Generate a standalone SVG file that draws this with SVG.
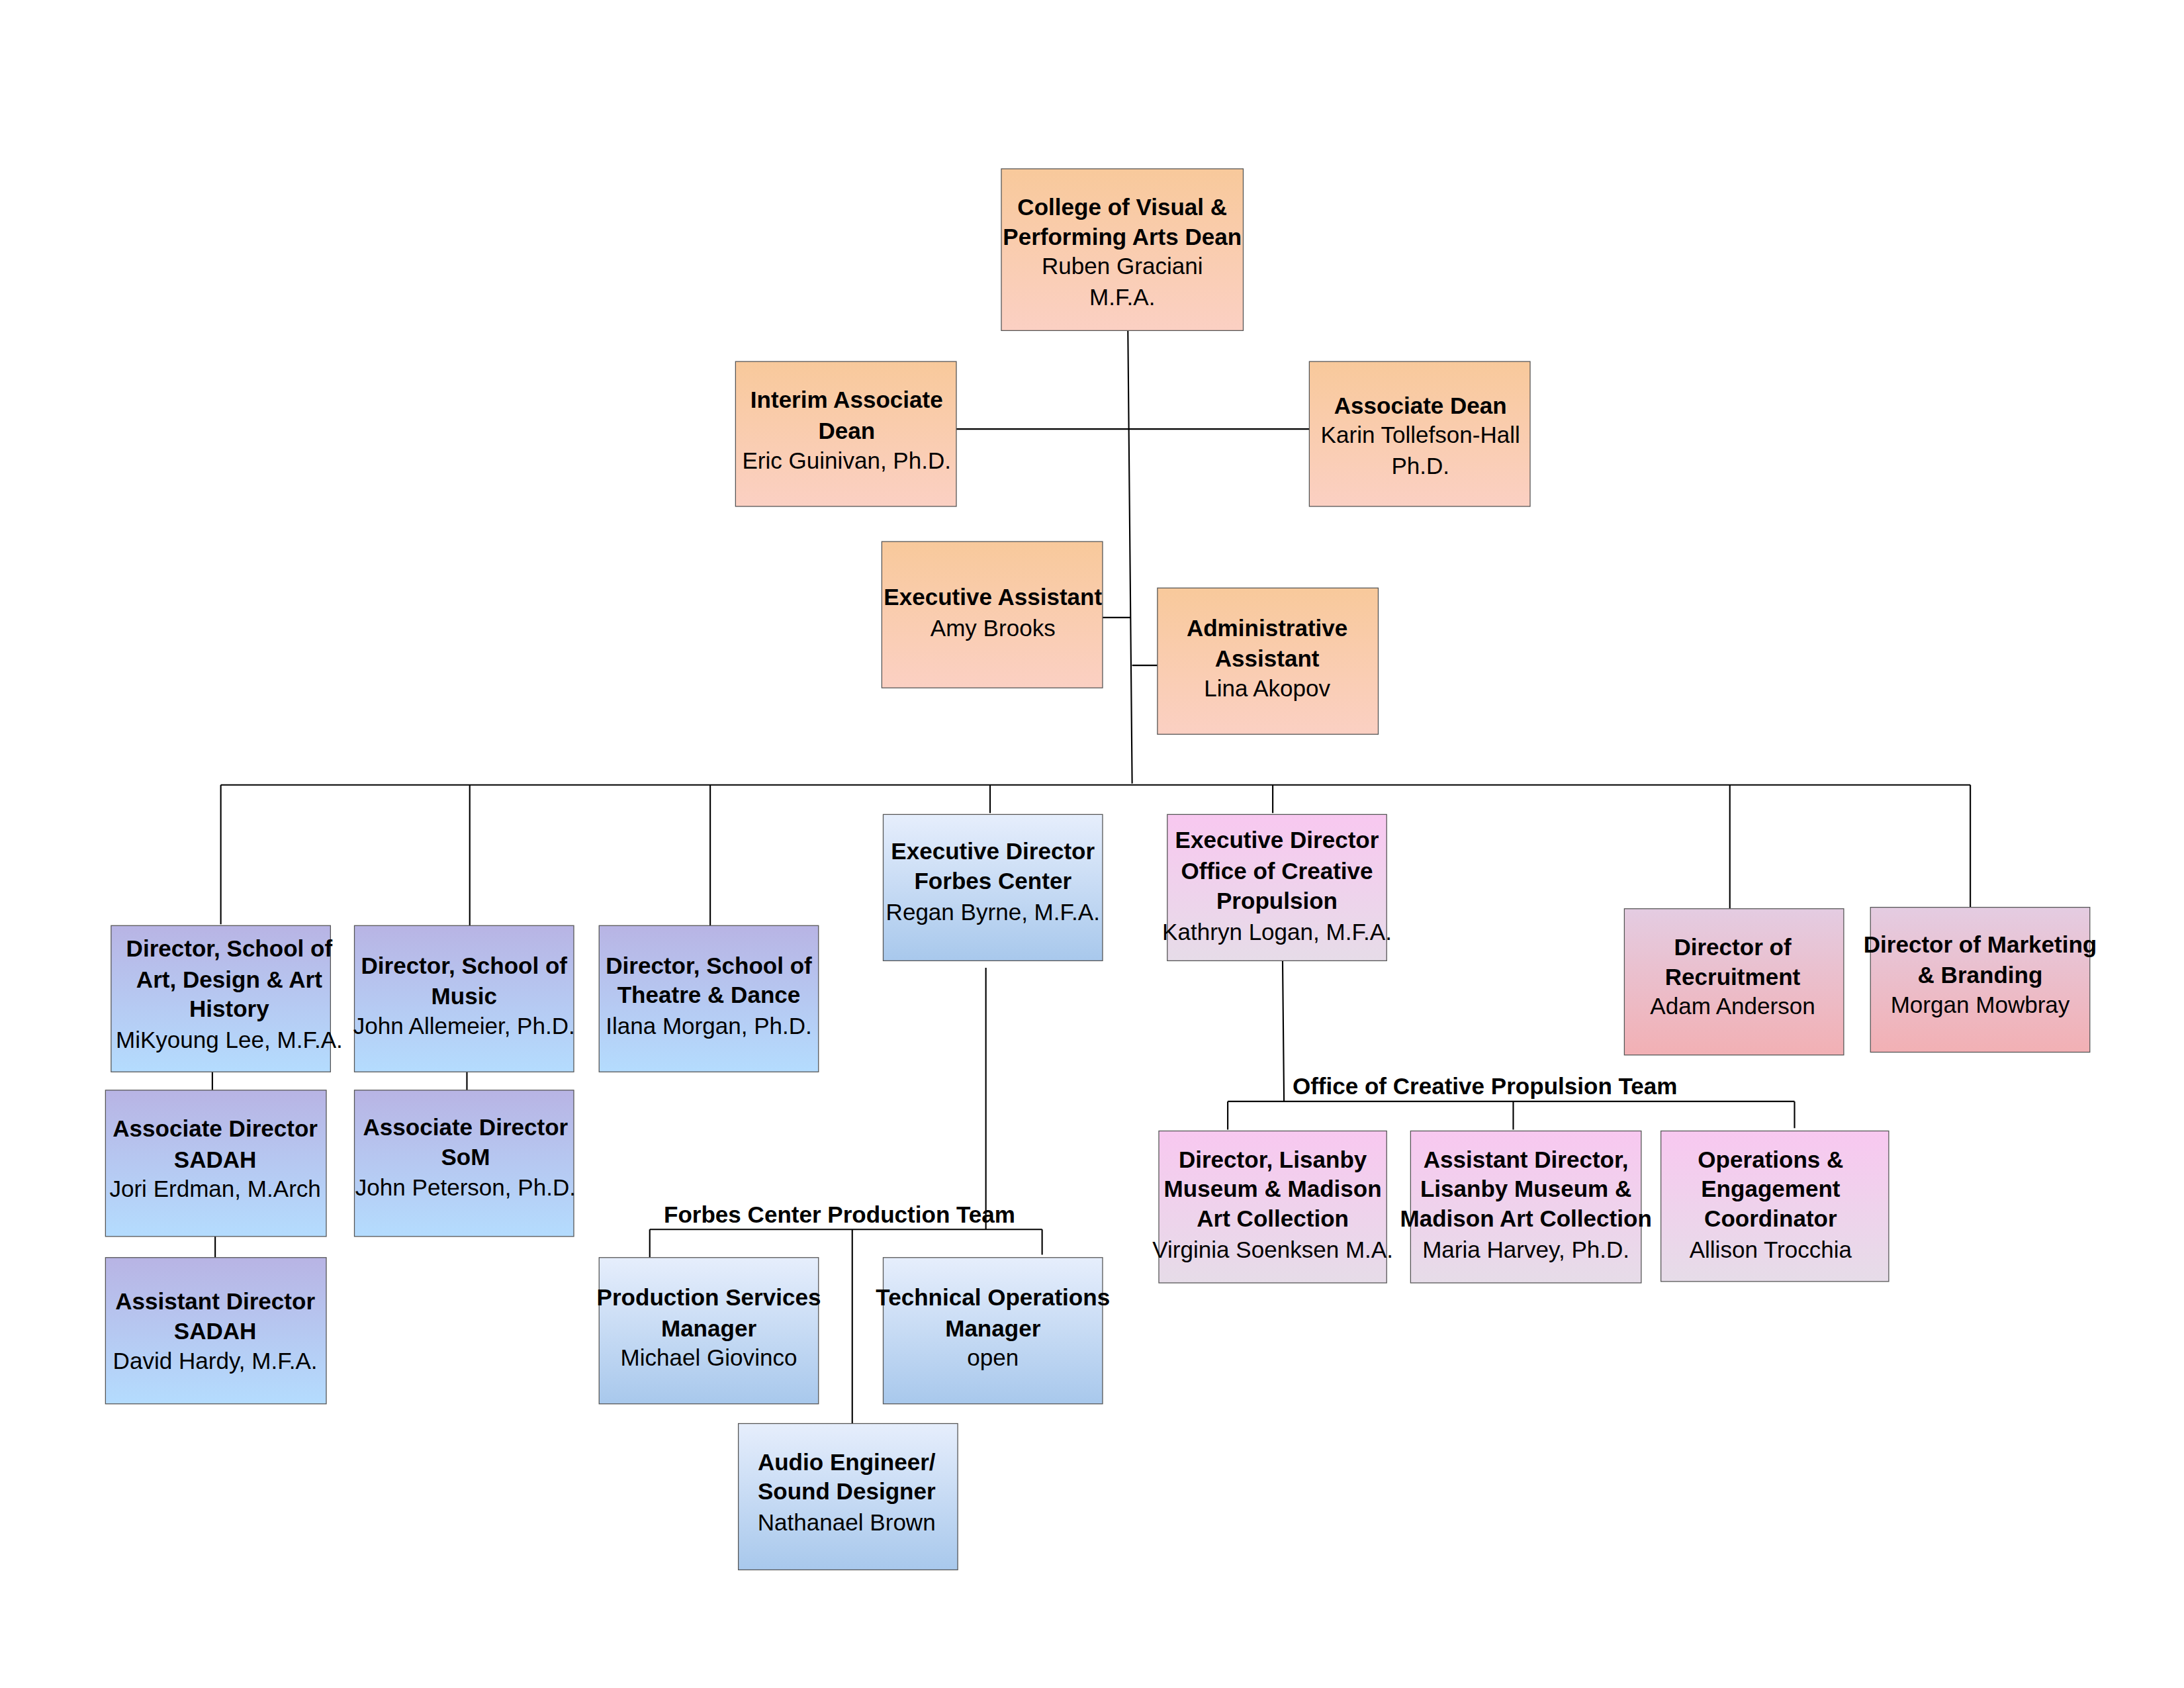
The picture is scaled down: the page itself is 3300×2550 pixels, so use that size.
<svg xmlns="http://www.w3.org/2000/svg" width="3300" height="2550" viewBox="0 0 3300 2550">
<defs>
<linearGradient id="gO" x1="0" y1="0" x2="0" y2="1"><stop offset="0" stop-color="#F8C99B"/><stop offset="1" stop-color="#FBD0C3"/></linearGradient>
<linearGradient id="gP" x1="0" y1="0" x2="0" y2="1"><stop offset="0" stop-color="#B8B4E4"/><stop offset="1" stop-color="#B4DCFE"/></linearGradient>
<linearGradient id="gB" x1="0" y1="0" x2="0" y2="1"><stop offset="0" stop-color="#E6EEFC"/><stop offset="1" stop-color="#A8C8EC"/></linearGradient>
<linearGradient id="gK" x1="0" y1="0" x2="0" y2="1"><stop offset="0" stop-color="#F8C8F0"/><stop offset="1" stop-color="#E6DCE8"/></linearGradient>
<linearGradient id="gR" x1="0" y1="0" x2="0" y2="1"><stop offset="0" stop-color="#E4CCE2"/><stop offset="1" stop-color="#F2B0B4"/></linearGradient>
</defs>
<style>
rect{stroke:#555;stroke-width:0.6}
text{font-family:"Liberation Sans Narrow","Arial Narrow","Liberation Sans",sans-serif;font-size:16.5px;fill:#000;text-anchor:middle}
.b{font-weight:bold}
.lbl{text-anchor:start;font-weight:bold}
#connectors path{fill:none;stroke:#000;stroke-width:1}
</style>
<rect width="3300" height="2550" fill="#fff" style="stroke:none"/>
<g transform="scale(2.125)">
<g id="connectors">
<path d="M802,235 L805,557 M680,305 L931,305 M784,439 L804,439 M805,473 L823,473"/>
<path d="M157,558 L1401,558 M157,558 L157,657 M334,558 L334,658 M505,558 L505,658 M704,558 L704,578 M905,558 L905,578 M1230,558 L1230,646 M1401,558 L1401,645"/>
<path d="M151,762 L151,775 M153,879 L153,894 M332,762 L332,775"/>
<path d="M701,688 L701,874 M462,874 L741,874 M462,874 L462,894 M741,874 L741,892 M606,874 L606,1012"/>
<path d="M912,683 L913,783 M873,783 L1276,783 M873,783 L873,803 M1076,783 L1076,803 M1276,783 L1276,802"/>
</g>
<text class="lbl" x="472" y="869">Forbes Center Production Team</text>
<text class="lbl" x="919" y="778">Office of Creative Propulsion Team</text>

<g id="dean"><rect x="712" y="120" width="172" height="115" fill="url(#gO)"/>
<text x="798" y="153" class="b">College of Visual &amp;</text><text x="798" y="174" class="b">Performing Arts Dean</text><text x="798" y="195">Ruben Graciani</text><text x="798" y="217">M.F.A.</text></g>
<g id="interim"><rect x="523" y="257" width="157" height="103" fill="url(#gO)"/>
<text x="602" y="290" class="b">Interim Associate</text><text x="602" y="312" class="b">Dean</text><text x="602" y="333">Eric Guinivan, Ph.D.</text></g>
<g id="assocdean"><rect x="931" y="257" width="157" height="103" fill="url(#gO)"/>
<text x="1010" y="294" class="b">Associate Dean</text><text x="1010" y="315">Karin Tollefson-Hall</text><text x="1010" y="337">Ph.D.</text></g>
<g id="execasst"><rect x="627" y="385" width="157" height="104" fill="url(#gO)"/>
<text x="706" y="430" class="b">Executive Assistant</text><text x="706" y="452">Amy Brooks</text></g>
<g id="adminasst"><rect x="823" y="418" width="157" height="104" fill="url(#gO)"/>
<text x="901" y="452" class="b">Administrative</text><text x="901" y="474" class="b">Assistant</text><text x="901" y="495">Lina Akopov</text></g>

<g id="sadah"><rect x="79" y="658" width="156" height="104" fill="url(#gP)"/>
<text x="163" y="680" class="b">Director, School of</text><text x="163" y="702" class="b">Art, Design &amp; Art</text><text x="163" y="723" class="b">History</text><text x="163" y="745">MiKyoung Lee, M.F.A.</text></g>
<g id="music"><rect x="252" y="658" width="156" height="104" fill="url(#gP)"/>
<text x="330" y="692" class="b">Director, School of</text><text x="330" y="714" class="b">Music</text><text x="330" y="735">John Allemeier, Ph.D.</text></g>
<g id="theatre"><rect x="426" y="658" width="156" height="104" fill="url(#gP)"/>
<text x="504" y="692" class="b">Director, School of</text><text x="504" y="713" class="b">Theatre &amp; Dance</text><text x="504" y="735">Ilana Morgan, Ph.D.</text></g>
<g id="forbes"><rect x="628" y="579" width="156" height="104" fill="url(#gB)"/>
<text x="706" y="611" class="b">Executive Director</text><text x="706" y="632" class="b">Forbes Center</text><text x="706" y="654">Regan Byrne, M.F.A.</text></g>
<g id="creative"><rect x="830" y="579" width="156" height="104" fill="url(#gK)"/>
<text x="908" y="603" class="b">Executive Director</text><text x="908" y="625" class="b">Office of Creative</text><text x="908" y="646" class="b">Propulsion</text><text x="908" y="668">Kathryn Logan, M.F.A.</text></g>
<g id="recruit"><rect x="1155" y="646" width="156" height="104" fill="url(#gR)"/>
<text x="1232" y="679" class="b">Director of</text><text x="1232" y="700" class="b">Recruitment</text><text x="1232" y="721">Adam Anderson</text></g>
<g id="marketing"><rect x="1330" y="645" width="156" height="103" fill="url(#gR)"/>
<text x="1408" y="677" class="b">Director of Marketing</text><text x="1408" y="699" class="b">&amp; Branding</text><text x="1408" y="720">Morgan Mowbray</text></g>

<g id="assocsadah"><rect x="75" y="775" width="157" height="104" fill="url(#gP)"/>
<text x="153" y="808" class="b">Associate Director</text><text x="153" y="830" class="b">SADAH</text><text x="153" y="851">Jori Erdman, M.Arch</text></g>
<g id="asstsadah"><rect x="75" y="894" width="157" height="104" fill="url(#gP)"/>
<text x="153" y="931" class="b">Assistant Director</text><text x="153" y="952" class="b">SADAH</text><text x="153" y="973">David Hardy, M.F.A.</text></g>
<g id="assocsom"><rect x="252" y="775" width="156" height="104" fill="url(#gP)"/>
<text x="331" y="807" class="b">Associate Director</text><text x="331" y="828" class="b">SoM</text><text x="331" y="850">John Peterson, Ph.D.</text></g>

<g id="prodserv"><rect x="426" y="894" width="156" height="104" fill="url(#gB)"/>
<text x="504" y="928" class="b">Production Services</text><text x="504" y="950" class="b">Manager</text><text x="504" y="971">Michael Giovinco</text></g>
<g id="techops"><rect x="628" y="894" width="156" height="104" fill="url(#gB)"/>
<text x="706" y="928" class="b">Technical Operations</text><text x="706" y="950" class="b">Manager</text><text x="706" y="971">open</text></g>
<g id="audio"><rect x="525" y="1012" width="156" height="104" fill="url(#gB)"/>
<text x="602" y="1045" class="b">Audio Engineer/</text><text x="602" y="1066" class="b">Sound Designer</text><text x="602" y="1088">Nathanael Brown</text></g>

<g id="lisanby"><rect x="824" y="804" width="162" height="108" fill="url(#gK)"/>
<text x="905" y="830" class="b">Director, Lisanby</text><text x="905" y="851" class="b">Museum &amp; Madison</text><text x="905" y="872" class="b">Art Collection</text><text x="905" y="894">Virginia Soenksen M.A.</text></g>
<g id="asstlisanby"><rect x="1003" y="804" width="164" height="108" fill="url(#gK)"/>
<text x="1085" y="830" class="b">Assistant Director,</text><text x="1085" y="851" class="b">Lisanby Museum &amp;</text><text x="1085" y="872" class="b">Madison Art Collection</text><text x="1085" y="894">Maria Harvey, Ph.D.</text></g>
<g id="ops"><rect x="1181" y="804" width="162" height="107" fill="url(#gK)"/>
<text x="1259" y="830" class="b">Operations &amp;</text><text x="1259" y="851" class="b">Engagement</text><text x="1259" y="872" class="b">Coordinator</text><text x="1259" y="894">Allison Trocchia</text></g>
</g>
</svg>
